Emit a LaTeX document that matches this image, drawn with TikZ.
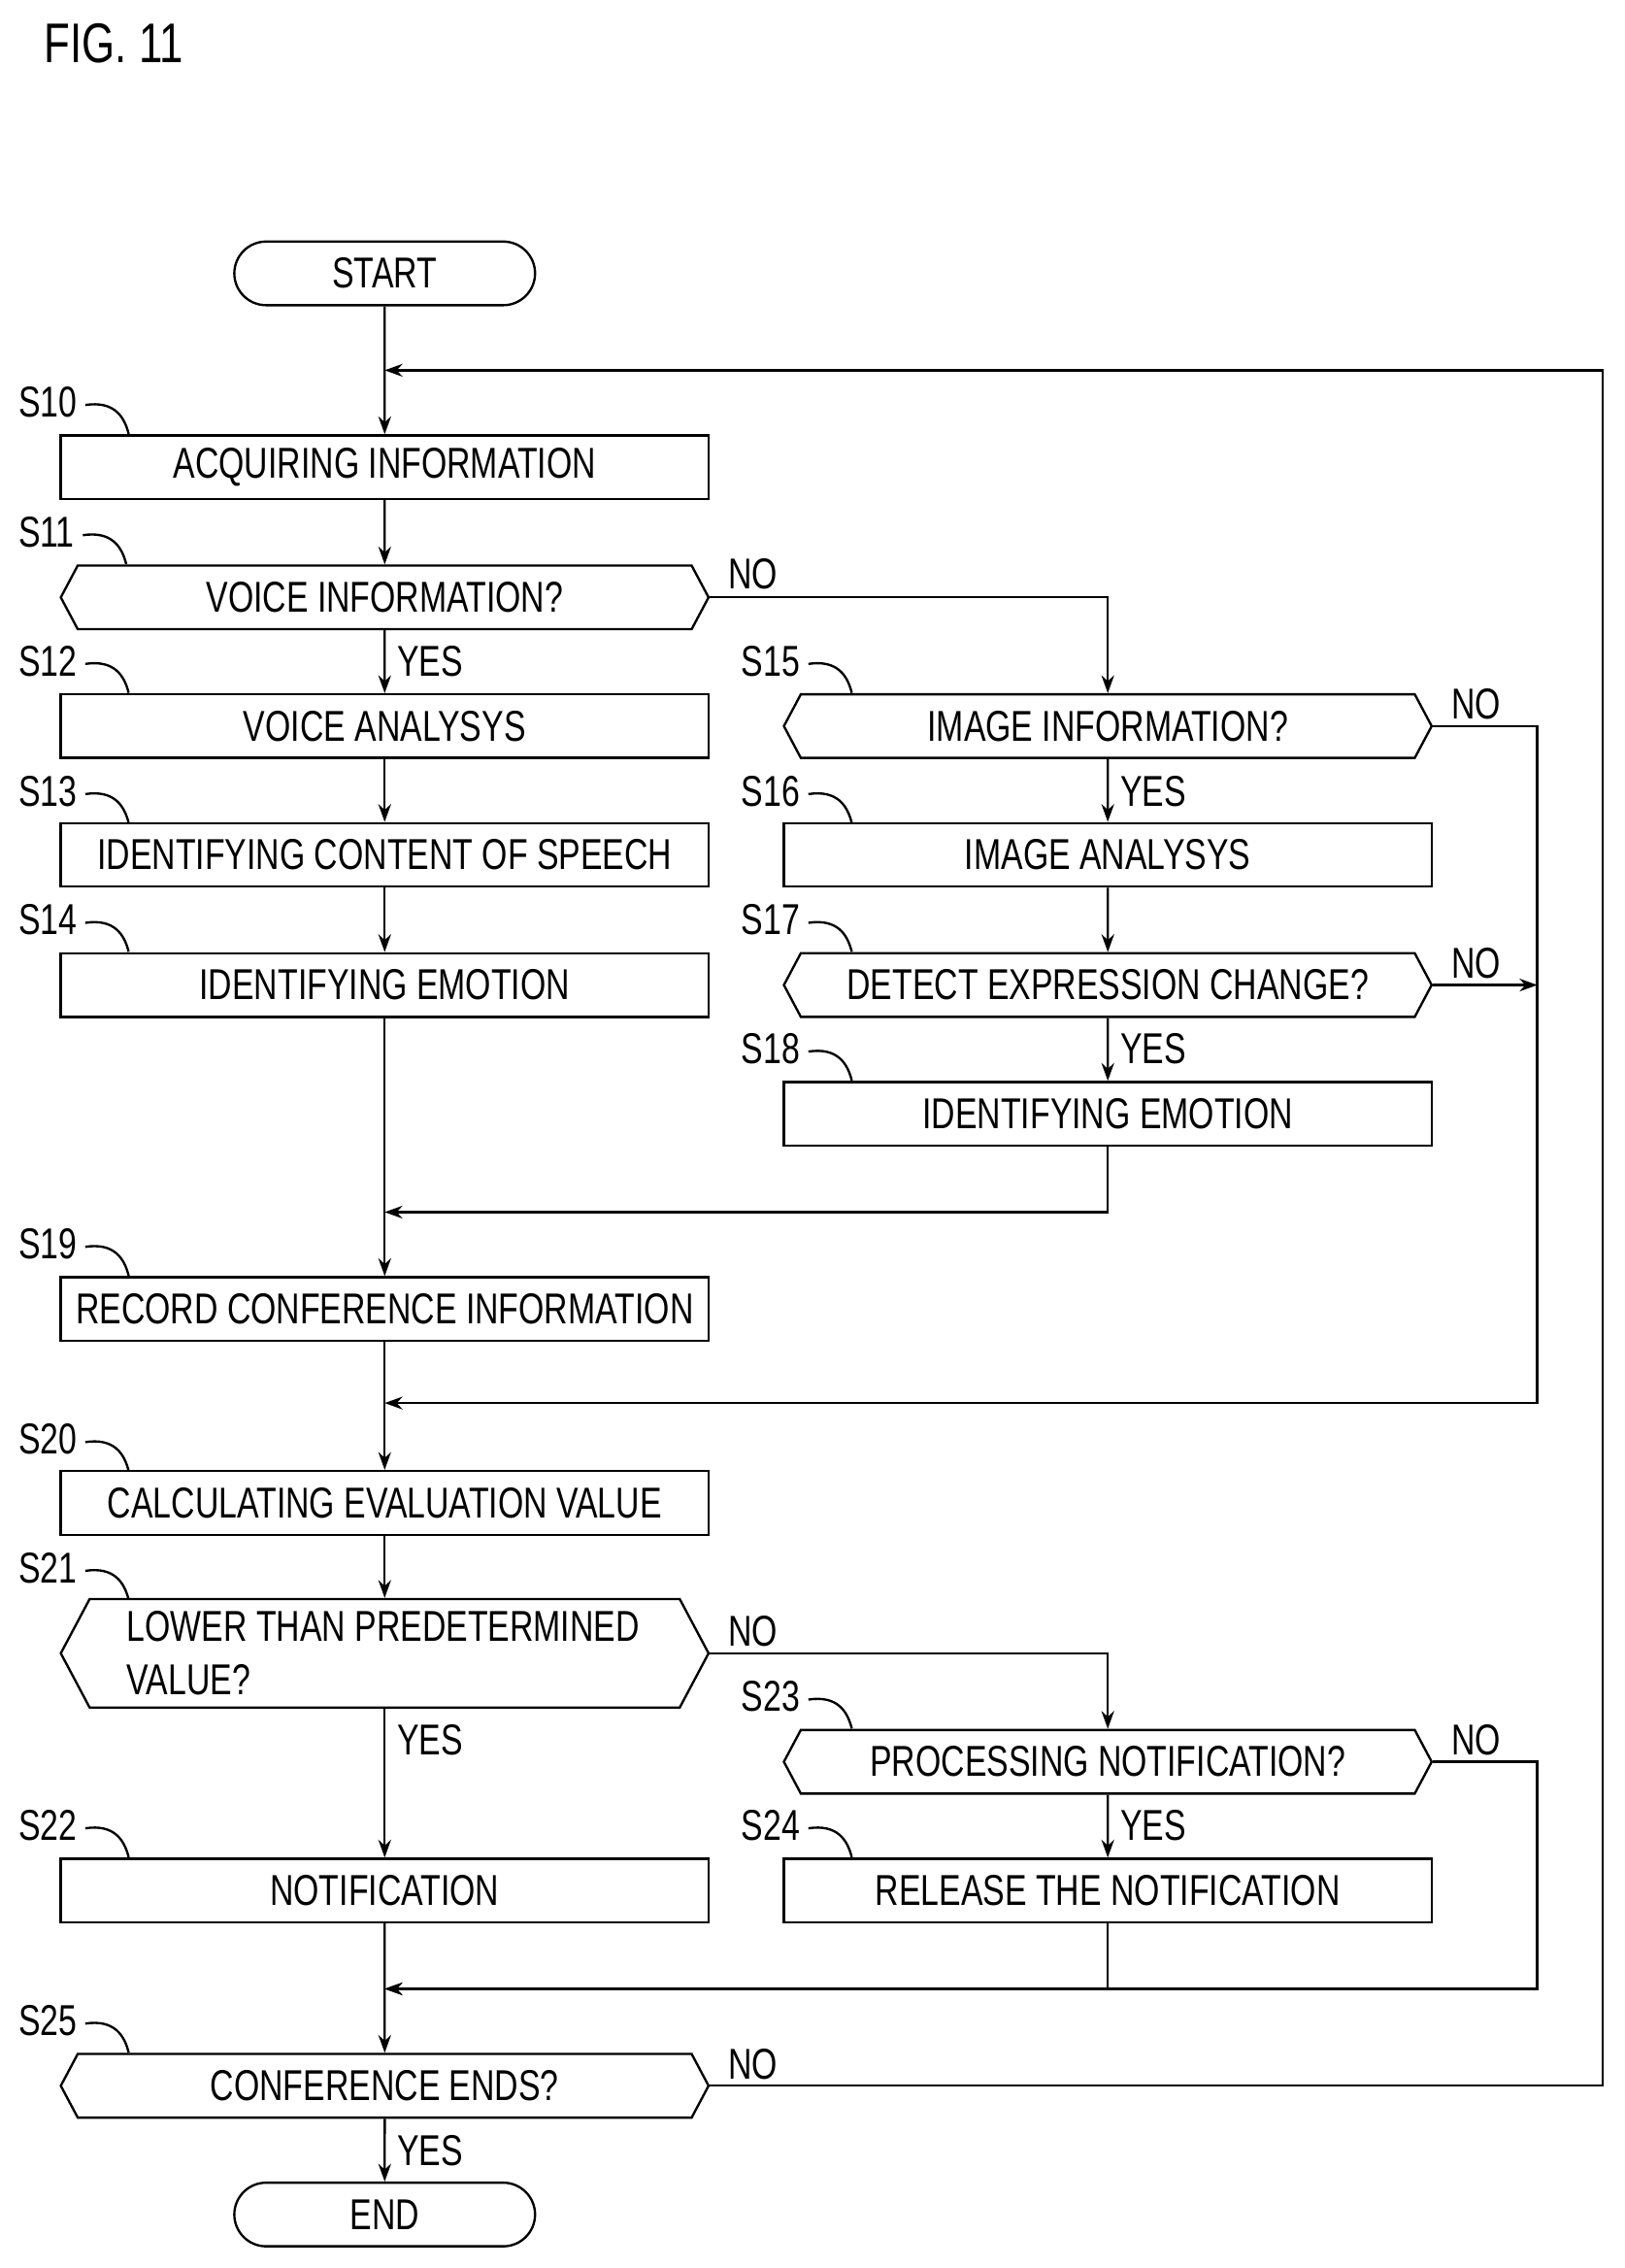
\documentclass[tikz,border=0pt]{standalone}
\usepackage{fontspec}
\setmainfont[FakeStretch=0.76]{Liberation Sans}
\usetikzlibrary{shapes.misc,shapes.symbols,arrows.meta}
\begin{document}
\begin{tikzpicture}[x=0.02cm,y=-0.02cm,
  font=\fontsize{17}{21}\selectfont,
  every path/.style={line width=0.9pt},
  box/.style={draw,rectangle,minimum width=8.96cm,minimum height=0.88cm,inner sep=0pt},
  hex/.style={draw,signal,signal to=west and east,signal pointer angle=124,minimum width=8.96cm,minimum height=0.88cm,inner sep=0pt},
  term/.style={draw,rounded rectangle,minimum width=4.16cm,minimum height=0.88cm,inner sep=0pt},
  lab/.style={anchor=west,inner sep=0pt},
  yn/.style={anchor=west,inner sep=0pt},
  arr/.style={-{Stealth[length=7pt,width=5pt]}}]
\useasboundingbox (0,0) rectangle (1123,1568);
\node[lab,font=\fontsize{22}{26}\selectfont] (fig) at (30,30) {FIG. 11};
% main column
\node[term] (start) at (266,189) {START};
\node[box] (s10) at (266,323) {ACQUIRING INFORMATION};
\node[hex] (s11) at (266,413) {VOICE INFORMATION?};
\node[box] (s12) at (266,502) {VOICE ANALYSYS};
\node[box] (s13) at (266,591) {IDENTIFYING CONTENT OF SPEECH};
\node[box] (s14) at (266,681) {IDENTIFYING EMOTION};
\node[box] (s19) at (266,905) {RECORD CONFERENCE INFORMATION};
\node[box] (s20) at (266,1039) {CALCULATING EVALUATION VALUE};
\node[hex,minimum height=1.5cm] (s21) at (266,1143) {};
\node[anchor=west,align=left,inner sep=0pt] (s21t) at (87,1143) {LOWER THAN PREDETERMINED\\VALUE?};
\node[box] (s22) at (266,1307) {NOTIFICATION};
\node[hex] (s25) at (266,1442) {CONFERENCE ENDS?};
\node[term] (end) at (266,1531) {END};
% right column
\node[hex] (s15) at (766,502) {IMAGE INFORMATION?};
\node[box] (s16) at (766,591) {IMAGE ANALYSYS};
\node[hex] (s17) at (766,681) {DETECT EXPRESSION CHANGE?};
\node[box] (s18) at (766,770) {IDENTIFYING EMOTION};
\node[hex] (s23) at (766,1218) {PROCESSING NOTIFICATION?};
\node[box] (s24) at (766,1307) {RELEASE THE NOTIFICATION};
% coordinates
\coordinate (top) at (266,256);
\coordinate (m1) at (266,838);
\coordinate (m2) at (266,970);
\coordinate (m3) at (266,1375);
% main flow
\draw[arr] (start) -- (s10);
\draw[arr] (s10) -- (s11);
\draw[arr] (s11) -- (s12);
\draw[arr] (s12) -- (s13);
\draw[arr] (s13) -- (s14);
\draw[arr] (s14) -- (s19);
\draw[arr] (s19) -- (s20);
\draw[arr] (s20) -- (s21);
\draw[arr] (s21) -- (s22);
\draw[arr] (s22) -- (s25);
\draw[arr] (s25) -- (end);
\draw[arr] (s15) -- (s16);
\draw[arr] (s16) -- (s17);
\draw[arr] (s17) -- (s18);
\draw[arr] (s23) -- (s24);
% branches
\draw[arr] (s11.east) -| (s15.north);
\draw[arr] (s21.east) -| (s23.north);
\draw[arr] (s18.south) |- (m1);
\draw[arr] (s15.east) -- (1063,502) |- (m2);
\draw[arr] (s17.east) -- (1063,681);
\draw[arr] (s24.south) |- (m3);
\draw[arr] (s23.east) -- (1063,1218) |- (m3);
\draw[arr] (s25.east) -- (1108,1442) |- (top);
% yes/no
\node[yn] (y11) at (274,457) {YES};
\node[yn] (y15) at (774,547) {YES};
\node[yn] (y17) at (774,725) {YES};
\node[yn] (y21) at (274,1203) {YES};
\node[yn] (y23) at (774,1262) {YES};
\node[yn] (y25) at (274,1487) {YES};
\node[yn] (n11) at (503,397) {NO};
\node[yn] (n15) at (1003,487) {NO};
\node[yn] (n17) at (1003,666) {NO};
\node[yn] (n21) at (503,1128) {NO};
\node[yn] (n23) at (1003,1203) {NO};
\node[yn] (n25) at (503,1427) {NO};
% step labels
\foreach \n/\x/\y in {10/12/278,11/12/368,12/12/457,13/12/547,14/12/636,19/12/860,20/12/995,21/12/1084,22/12/1262,25/12/1397,15/512/457,16/512/547,17/512/636,18/512/725,23/512/1173,24/512/1262}{
  \node[lab] (l\n) at (\x,\y) {S\n};
  \draw (l\n.east) ++(5,2) .. controls ++(20,-3) and ++(-3,-12) .. ++(30,20);
}
\end{tikzpicture}
\end{document}
